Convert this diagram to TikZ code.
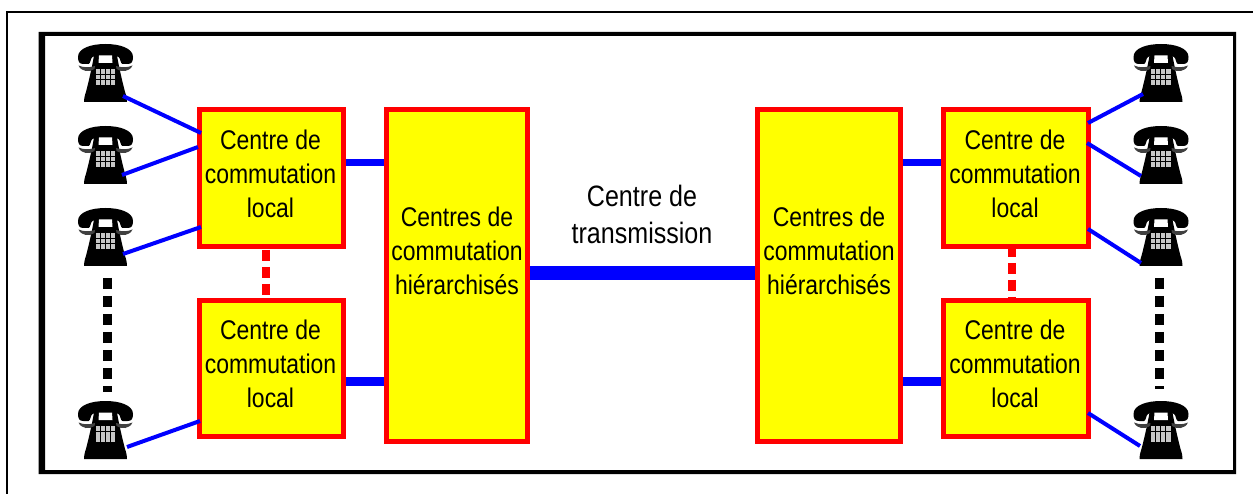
\documentclass[tikz,border=0pt]{standalone}
\usepackage{fontspec}
\setmainfont[FakeStretch=0.85]{Liberation Sans}
\definecolor{pureyellow}{RGB}{255,255,0}
\definecolor{purered}{RGB}{255,0,0}
\definecolor{pureblue}{RGB}{0,0,255}
\tikzset{
  pics/phone/.style={code={
    % body
    \fill[black] (-11,9) -- (11,9) .. controls (13,20) and (15,30) .. (18.5,44) .. controls (19.5,49) and (21.5,52) .. (21.5,58) -- (-21.5,58) .. controls (-21.5,52) and (-19.5,49) .. (-18.5,44) .. controls (-15,30) and (-13,20) .. (-11,9) -- cycle;
    % handset
    \fill[black] (-27.5,13) .. controls (-27.5,4) and (-14,0) .. (0,0) .. controls (14,0) and (27.5,4) .. (27.5,13) .. controls (27.5,18) and (26,20) .. (22,20) -- (17,20) .. controls (15,20) and (15,14) .. (13,13) .. controls (8,10.5) and (-8,10.5) .. (-13,13) .. controls (-15,14) and (-15,20) .. (-17,20) -- (-22,20) .. controls (-26,20) and (-27.5,18) .. (-27.5,13) -- cycle;
    % lower cradle arcs
    \fill[black!75] (-27,21.5) .. controls (-24,28) and (-16,28.5) .. (-11,25) -- (-10.5,22) .. controls (-15,23.5) and (-22,24) .. (-27,21.5) -- cycle;
    \fill[black!75] (27,21.5) .. controls (24,28) and (16,28.5) .. (11,25) -- (10.5,22) .. controls (15,23.5) and (22,24) .. (27,21.5) -- cycle;
    % notch
    \fill[white] (-6.5,11.5) -- (6.5,11.5) -- (7,19) -- (-7,19) -- cycle;
    % keypad
    \foreach \c in {0,1,2,3}{\foreach \r in {0,1,2}{
      \fill[black!22] (-10+5.1*\c,25+5.7*\r) rectangle ++(4.2,4.8);
    }}
  }},
  phonebox/.style={minimum width=55pt,minimum height=58pt,inner sep=0pt,outer sep=0pt},
  swbox/.style={draw=purered,fill=pureyellow,line width=5pt,inner sep=0pt},
  captxt/.style={align=center,inner sep=0pt,font=\fontsize{27}{34}\selectfont,text=black},
  wire/.style={draw=pureblue,line width=4pt},
  trunk/.style={draw=pureblue,line width=7pt},
  ftrunk/.style={draw=pureblue,line width=9pt},
  maintrunk/.style={draw=pureblue,line width=14pt},
  reddash/.style={draw=purered,line width=8.5pt,dash pattern=on 11pt off 6pt},
  blackdash/.style={draw=black,line width=9pt,dash pattern=on 11pt off 7pt},
}
\begin{document}
\begin{tikzpicture}[x=1pt,y=-1pt]
\useasboundingbox (0,0) rectangle (1253,494);
\fill[white] (0,0) rectangle (1253,494);
% frames
\draw[line width=1.6pt,black] (1253,12) -- (7,12) -- (7,494);
\fill[black,even odd rule] (38.5,32) rectangle (1236,474) (45,36) rectangle (1233,470);
% boxes
\node[swbox,minimum width=144pt,minimum height=137pt] (b1) at (271.5,178) {};
\node[swbox,minimum width=144pt,minimum height=136pt] (b2) at (271.5,368.5) {};
\node[swbox,minimum width=141pt,minimum height=332pt] (h1) at (457,275.5) {};
\node[swbox,minimum width=143pt,minimum height=332pt] (h2) at (829,275.5) {};
\node[swbox,minimum width=145pt,minimum height=137pt] (b3) at (1016,178) {};
\node[swbox,minimum width=145pt,minimum height=136pt] (b4) at (1016,368.5) {};
% captions
\node[captxt] (t1) at ([shift={(-1,-4.5)}]b1.center) {Centre de\\commutation\\local};
\node[captxt] (t2) at ([shift={(-1,-4.5)}]b2.center) {Centre de\\commutation\\local};
\node[captxt] (t3) at ([shift={(-1,-4.5)}]b3.center) {Centre de\\commutation\\local};
\node[captxt] (t4) at ([shift={(-1,-4.5)}]b4.center) {Centre de\\commutation\\local};
\node[captxt] (t5) at ([shift={(0,-25)}]h1.center) {Centres de\\commutation\\hiérarchisés};
\node[captxt] (t6) at ([shift={(0,-25)}]h2.center) {Centres de\\commutation\\hiérarchisés};
\node[captxt,font=\fontsize{29.5}{37}\selectfont] (t7) at (642,214) {Centre de\\transmission};
% phones
\node[phonebox] (p1) at (105.5,73) {};
\node[phonebox] (p2) at (105.5,155) {};
\node[phonebox] (p3) at (105.5,237) {};
\node[phonebox] (p4) at (105.5,430) {};
\node[phonebox] (r1) at (1161,73) {};
\node[phonebox] (r2) at (1161,155) {};
\node[phonebox] (r3) at (1161,237) {};
\node[phonebox] (r4) at (1161,430) {};
\foreach \n in {p1,p2,p3,p4,r1,r2,r3,r4}{
  \pic at ([shift={(0,-29)}]\n.center) {phone};
}
% subscriber wires
\draw[wire] ([shift={(17.5,23)}]p1.center) -- ([shift={(-70.5,-45)}]b1.center);
\draw[wire] ([shift={(16.5,20)}]p2.center) -- ([shift={(-73.5,-31)}]b1.center);
\draw[wire] ([shift={(17.5,17)}]p3.center) -- ([shift={(-70.5,49)}]b1.center);
\draw[wire] ([shift={(21.5,17)}]p4.center) -- ([shift={(-71.5,52.5)}]b2.center);
\draw[wire] ([shift={(-18,21)}]r1.center) -- ([shift={(72,-55)}]b3.center);
\draw[wire] ([shift={(-20,21)}]r2.center) -- ([shift={(71,-35)}]b3.center);
\draw[wire] ([shift={(-20,26)}]r3.center) -- ([shift={(72,51)}]b3.center);
\draw[wire] ([shift={(-21,16)}]r4.center) -- ([shift={(72,44.5)}]b4.center);
% trunks
\draw[trunk] ([shift={(0,-15)}]b1.east) -- ([shift={(0,-15)}]b1.east -| h1.west);
\draw[ftrunk] ([shift={(0,12.5)}]b2.east) -- ([shift={(0,12.5)}]b2.east -| h1.west);
\draw[trunk] ([shift={(0,-15)}]b3.west) -- ([shift={(0,-15)}]b3.west -| h2.east);
\draw[ftrunk] ([shift={(0,13)}]b4.west) -- ([shift={(0,13)}]b4.west -| h2.east);
\draw[maintrunk] ([shift={(0,-2.5)}]h1.east) -- ([shift={(0,-2.5)}]h2.west);
% dashed links
\draw[reddash,dash phase=-1pt] ([shift={(-5.5,0)}]b1.south) -- ([shift={(-5.5,0)}]b1.south |- b2.north);
\draw[reddash,line width=8pt,dash phase=3pt] ([shift={(-4,0)}]b3.south) -- ([shift={(-4,0)}]b3.south |- b4.north);
\draw[blackdash] ([shift={(1.5,12)}]p3.south) -- ([shift={(1.5,-9)}]p4.north);
\draw[blackdash] ([shift={(-2,12)}]r3.south) -- ([shift={(-2,-12)}]r4.north);
\end{tikzpicture}
\end{document}
